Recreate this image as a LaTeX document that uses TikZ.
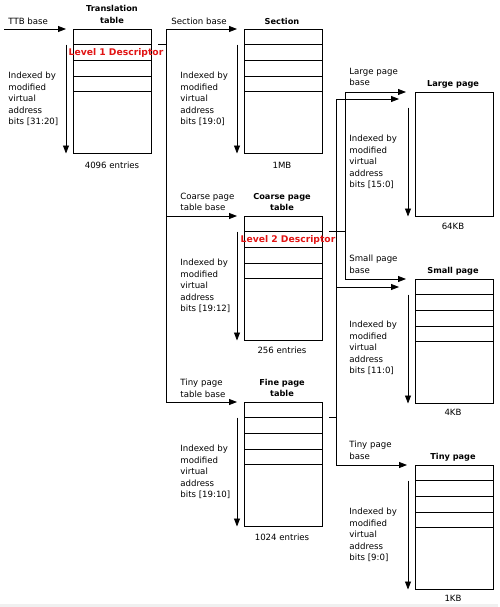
\documentclass[tikz,border=0pt]{standalone}
\usepackage{fontspec}
\setmainfont{DejaVu Sans}
\usetikzlibrary{arrows.meta}
\definecolor{descred}{RGB}{225,20,20}
\begin{document}
\begin{tikzpicture}[x=1pt,y=-1pt,line width=0.8pt,
	every node/.style={inner sep=0pt,font=\fontsize{8.6}{11.6}\selectfont},
	tbl/.style={draw,minimum width=78pt,minimum height=124.5pt,anchor=north west,outer sep=0pt},
	title/.style={font=\fontsize{8.2}{11.5}\selectfont\bfseries,align=center},
	idx/.style={align=left,anchor=west},
	desc/.style={text=descred,font=\fontsize{9.2}{11}\selectfont\bfseries},
	arr/.style={-{Triangle[length=8pt,width=6pt]},shorten >=7pt}]
      \useasboundingbox (0,0) rectangle (500,607);
      \fill [gray!12] (0,604) rectangle (498,607);

      % boxes
      \node [tbl] (tt) at (73,29) {};
      \node [tbl] (sec) at (244,29) {};
      \node [tbl] (cpt) at (244,216) {};
      \node [tbl] (fpt) at (244,402) {};
      \node [tbl] (large) at (415,92) {};
      \node [tbl] (small) at (415,279) {};
      \node [tbl] (tiny) at (415,465) {};

      \foreach \t in {tt,sec,cpt,fpt,small,tiny}
        \foreach \r in {15.7,31.4,47.1,62.8}
          \draw ([yshift=-\r pt]\t.north west) -- ([yshift=-\r pt]\t.north east);

      % index arrows
      \foreach \t in {tt,sec,cpt,fpt,large,small,tiny}
        \draw [-{Triangle[length=8pt,width=6pt]}] ([xshift=-7pt,yshift=-15.7pt]\t.north west) -- ([xshift=-7pt]\t.south west);

      % connectors
      \coordinate (ttb) at (4,29);
      \coordinate (j1) at ([xshift=15pt,yshift=-15.7pt]tt.north east);
      \coordinate (j2) at ([xshift=23pt,yshift=-15.7pt]cpt.north east);
      \coordinate (j3) at ([xshift=14pt,yshift=-15.7pt]fpt.north east);

      \draw [arr] (ttb) -- (tt.north west);
      \draw ([xshift=7pt,yshift=-15.7pt]tt.north east) -- (j1);
      \draw [arr] (j1) |- (sec.north west);
      \draw [arr] (j1) |- (cpt.north west);
      \draw [arr] (j1) |- (fpt.north west);

      \draw ([xshift=7pt,yshift=-15.7pt]cpt.north east) -- (j2);
      \draw [arr,shorten >=9pt] (j2) |- (large.north west);
      \draw [arr,shorten >=9pt] (j2) |- (small.north west);

      \draw ([xshift=7pt,yshift=-15.7pt]fpt.north east) -- (j3);
      \draw [arr,shorten >=16pt] (j3) |- ([yshift=-7pt]large.north west);
      \draw [arr,shorten >=16pt] (j3) |- ([yshift=-8pt]small.north west);
      \draw [arr,shorten >=8pt] (j3) |- (tiny.north west);

      % titles
      \node [title] (tttitle) at (112,14.5) {Translation\\table};
      \node [title] (sectitle) at (282,21) {Section};
      \node [title] (cpttitle) at (282,202) {Coarse page\\table};
      \node [title] (fpttitle) at (282,388) {Fine page\\table};
      \node [title] (largetitle) at (453,84) {Large page};
      \node [title] (smalltitle) at (453,271) {Small page};
      \node [title] (tinytitle) at (453,457) {Tiny page};

      % base labels
      \node [idx] (ttbase) at (8,21) {TTB base};
      \node [idx] (secbase) at (171,21) {Section base};
      \node [idx] (cptbase) at (180,202) {Coarse page\\table base};
      \node [idx] (fptbase) at (180,388) {Tiny page\\table base};
      \node [idx] (largebase) at (349,77) {Large page\\base};
      \node [idx] (smallbase) at (349,264) {Small page\\base};
      \node [idx] (tinybase) at (349,450.5) {Tiny page\\base};

      % index texts
      \node [idx] (ttidx) at (8,99) {Indexed by\\modified\\virtual\\address\\bits [31:20]};
      \node [idx] (secidx) at (180,99) {Indexed by\\modified\\virtual\\address\\bits [19:0]};
      \node [idx] (cptidx) at (180,286) {Indexed by\\modified\\virtual\\address\\bits [19:12]};
      \node [idx] (fptidx) at (180,472) {Indexed by\\modified\\virtual\\address\\bits [19:10]};
      \node [idx] (largeidx) at (349,162) {Indexed by\\modified\\virtual\\address\\bits [15:0]};
      \node [idx] (smallidx) at (349,348) {Indexed by\\modified\\virtual\\address\\bits [11:0]};
      \node [idx] (tinyidx) at (349,535) {Indexed by\\modified\\virtual\\address\\bits [9:0]};

      % sizes
      \node (ttsize) at (112,165) {4096 entries};
      \node (secsize) at (282,165) {1MB};
      \node (cptsize) at (282,350) {256 entries};
      \node (fptsize) at (282,537) {1024 entries};
      \node (largesize) at (453,226) {64KB};
      \node (smallsize) at (453,412) {4KB};
      \node (tinysize) at (453,598) {1KB};

      % descriptors
      \node [desc] (desc1) at (116,53) {Level 1 Descriptor};
      \node [desc] (desc2) at (288,240) {Level 2 Descriptor};
    \end{tikzpicture}
\end{document}
